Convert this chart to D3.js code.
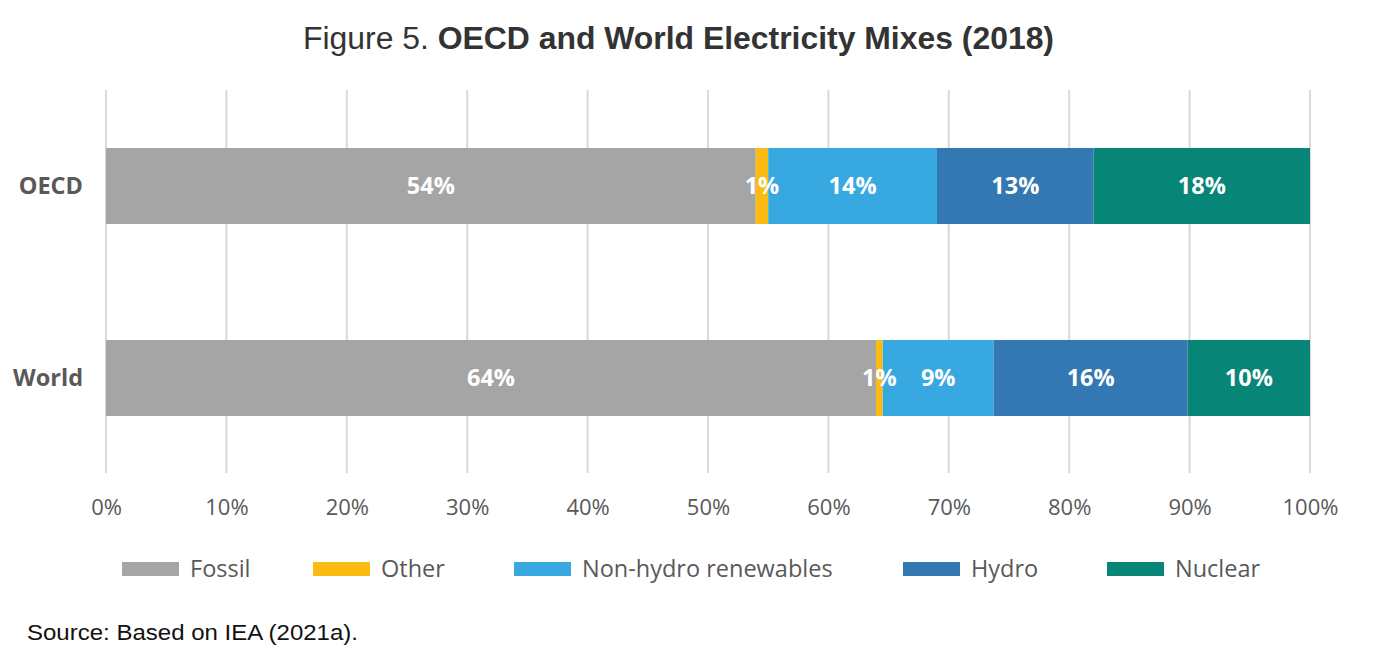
<!DOCTYPE html>
<html>
<head>
<meta charset="utf-8">
<script src="https://cdn.jsdelivr.net/npm/d3@7"></script>
<style>
  html, body { margin: 0; padding: 0; background: #ffffff; }
  svg { display: block; }
</style>
</head>
<body>
<svg id="chart" width="1386" height="671"></svg>
<script>
const categories = ["OECD", "World"];
const seriesNames = ["Fossil", "Other", "Non-hydro renewables", "Hydro", "Nuclear"];
const fossil   = [53.96, 63.95];
const other    = [1.04, 0.56];
const nonHydro = [14.02, 9.22];
const hydro    = [13.01, 16.11];
const nuclear  = [17.97, 10.16];
const tickValues = [0, 10, 20, 30, 40, 50, 60, 70, 80, 90, 100];
const colors = ["#a5a5a5", "#fbbb13", "#37a8e0", "#3377b3", "#078576"];

const seriesValues = [fossil, other, nonHydro, hydro, nuclear];
const rows = categories.map((c, i) => {
  const r = { category: c };
  seriesNames.forEach((s, j) => { r[s] = seriesValues[j][i]; });
  return r;
});

const svg = d3.select("#chart");
const labelFont = "'Open Sans', 'Noto Sans', sans-serif";
const narrowFont = "'Liberation Sans Narrow', 'Arial Narrow', 'Liberation Sans', sans-serif";

const x = d3.scaleLinear().domain([0, 100]).range([106, 1310]);
const y = d3.scaleBand().domain(categories).range([90, 474])
  .paddingInner(0.604).paddingOuter(0.302);

// Title
const title = svg.append("text")
  .attr("x", 303).attr("y", 49)
  .attr("font-family", narrowFont)
  .attr("font-size", 31)
  .attr("textLength", 751)
  .attr("lengthAdjust", "spacingAndGlyphs")
  .attr("fill", "#333333");
title.append("tspan").text("Figure 5. ");
title.append("tspan").attr("font-weight", "bold").text("OECD and World Electricity Mixes (2018)");

// Gridlines
svg.append("g")
  .selectAll("line")
  .data(tickValues)
  .join("line")
  .attr("x1", d => x(d)).attr("x2", d => x(d))
  .attr("y1", 90).attr("y2", 473)
  .attr("stroke", "#d9d9d9")
  .attr("stroke-width", 2);

// Stacked bars
const stack = d3.stack().keys(seriesNames);
const stacked = stack(rows);
const fmt = d3.format(".0f");

const layers = svg.append("g").selectAll("g")
  .data(stacked)
  .join("g")
  .attr("fill", (d, i) => colors[i]);

layers.selectAll("rect")
  .data(d => d)
  .join("rect")
  .attr("x", d => x(d[0]))
  .attr("y", d => y(d.data.category))
  .attr("width", d => x(d[1]) - x(d[0]))
  .attr("height", y.bandwidth());

// Value labels
const labels = svg.append("g");
stacked.forEach(layer => {
  layer.forEach(d => {
    labels.append("text")
      .attr("x", (x(d[0]) + x(d[1])) / 2)
      .attr("y", y(d.data.category) + y.bandwidth() / 2)
      .attr("dy", "0.36em")
      .attr("text-anchor", "middle")
      .attr("font-family", labelFont)
      .attr("font-weight", "bold")
      .attr("font-size", 23.5)
      .attr("fill", "#ffffff")
      .text(fmt(d[1] - d[0]) + "%");
  });
});

// Category axis labels
svg.append("g").selectAll("text")
  .data(categories)
  .join("text")
  .attr("x", 83)
  .attr("y", d => y(d) + y.bandwidth() / 2)
  .attr("dy", "0.36em")
  .attr("text-anchor", "end")
  .attr("font-family", labelFont)
  .attr("font-weight", "bold")
  .attr("font-size", 23.5)
  .attr("fill", "#595959")
  .text(d => d);

// X axis
const xAxis = d3.axisBottom(x).tickValues(tickValues).tickSize(0).tickPadding(0)
  .tickFormat(d => d + "%");
const gx = svg.append("g").attr("transform", "translate(0,499)").call(xAxis);
gx.select(".domain").remove();
gx.selectAll("text")
  .attr("font-family", labelFont)
  .attr("font-size", 22)
  .attr("fill", "#595959")
  .attr("dy", "0.71em");

// Legend
const legendX = [122, 313, 514, 903, 1107];
const legend = svg.append("g").selectAll("g")
  .data(seriesNames)
  .join("g")
  .attr("transform", (d, i) => `translate(${legendX[i]},562)`);
legend.append("rect")
  .attr("width", 57).attr("height", 14)
  .attr("fill", (d, i) => colors[i]);
legend.append("text")
  .attr("x", 68).attr("y", 7)
  .attr("dy", "0.36em")
  .attr("font-family", labelFont)
  .attr("font-size", 23.5)
  .attr("fill", "#595959")
  .text(d => d);

// Source
svg.append("text")
  .attr("x", 27).attr("y", 640)
  .attr("font-family", narrowFont)
  .attr("font-size", 22)
  .attr("textLength", 331)
  .attr("lengthAdjust", "spacingAndGlyphs")
  .attr("fill", "#111111")
  .text("Source: Based on IEA (2021a).");
</script>
</body>
</html>
